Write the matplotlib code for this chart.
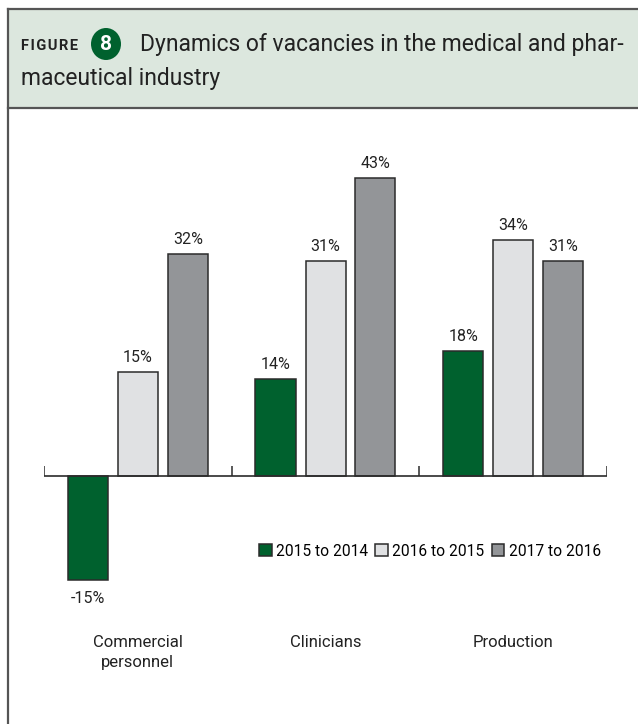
import matplotlib.pyplot as plt
from matplotlib.patches import Rectangle, Ellipse
from matplotlib.lines import Line2D

categories = ["Commercial\npersonnel", "Clinicians", "Production"]
series_names = ["2015 to 2014", "2016 to 2015", "2017 to 2016"]
values_2015 = [-15, 14, 18]
values_2016 = [15, 31, 34]
values_2017 = [32, 43, 31]

colors = ["#00612e", "#e0e1e3", "#939598"]
edge = "#2b2b2b"

plt.rcParams['font.family'] = ['Roboto', 'DejaVu Sans']

W, H = 638, 724
fig = plt.figure(figsize=(W / 100, H / 100), dpi=100)


def fx(px):
    return px / W


def fy(py):
    return 1 - py / H


# header band and frame
fig.patches.append(Rectangle((fx(8), fy(108)), fx(640) - fx(8), fy(9) - fy(108),
                             transform=fig.transFigure, facecolor="#dce7de",
                             edgecolor="none", zorder=0))
frame = dict(transform=fig.transFigure, color="#555555", lw=1.6)
fig.lines.append(Line2D([fx(8), fx(8)], [fy(9), fy(724)], **frame))
fig.lines.append(Line2D([fx(8), fx(640)], [fy(9), fy(9)], **frame))
fig.lines.append(Line2D([fx(8), fx(640)], [fy(108), fy(108)], **frame))

fig.text(fx(21), fy(46), "F I G U R E".replace(" ", "\u200a"), fontsize=10.5,
         fontweight="bold", color="#222222", va="center", ha="left")
fig.patches.append(Ellipse((fx(106), fy(44)), fx(30), 32 / H, transform=fig.transFigure,
                           facecolor="#00612e", edgecolor="none"))
fig.text(fx(106), fy(45), "8", fontsize=15, fontweight="bold", color="white",
         va="center", ha="center")
fig.text(fx(140), fy(45), "Dynamics of vacancies in the medical and phar-",
         fontsize=16.5, color="#222222", va="center", ha="left")
fig.text(fx(21), fy(78), "maceutical industry",
         fontsize=16.5, color="#222222", va="center", ha="left")

# chart area
ymin, ymax = -20, 50
px_per = 6.93
top_px = 476 - ymax * px_per
bot_px = 476 - ymin * px_per
ax = fig.add_axes([fx(44), fy(bot_px), fx(607) - fx(44), fy(top_px) - fy(bot_px)])
ax.set_xlim(-0.5, 2.5)
ax.set_ylim(ymin, ymax)
ax.axis("off")

unit = (607 - 44) / 3
width = 40 / unit
offset = 50 / unit
all_series = [values_2015, values_2016, values_2017]
for k, vals in enumerate(all_series):
    xs = [i + (k - 1) * offset for i in range(len(categories))]
    ax.bar(xs, vals, width=width, color=colors[k], edgecolor=edge, linewidth=1.1,
           label=series_names[k], zorder=2)
    for x, v in zip(xs, vals):
        if v >= 0:
            ax.text(x, v + 1.0, f"{v}%", ha="center", va="bottom", fontsize=11.5,
                    color="#222222")
        else:
            ax.text(x, v - 1.6, f"{v}%", ha="center", va="top", fontsize=11.5,
                    color="#222222")

ax.axhline(0, color=edge, lw=1.2, zorder=3)
ax.vlines([-0.5, 0.5, 1.5, 2.5], 0, 1.45, color=edge, lw=1.1, zorder=3)

for i, cat in enumerate(categories):
    ax.text(i, -23.0, cat, ha="center", va="top", fontsize=12, color="#222222",
            linespacing=1.35, clip_on=False)

legend_y = ((476 - 551) / px_per - ymin) / (ymax - ymin)
ax.legend(loc="center right", bbox_to_anchor=(1.0, legend_y),
          ncol=3, frameon=False, fontsize=11.2, handlelength=0.8, handleheight=0.8,
          handletextpad=0.3, columnspacing=0.45, borderaxespad=0)

fig.savefig("out.png", dpi=100)
